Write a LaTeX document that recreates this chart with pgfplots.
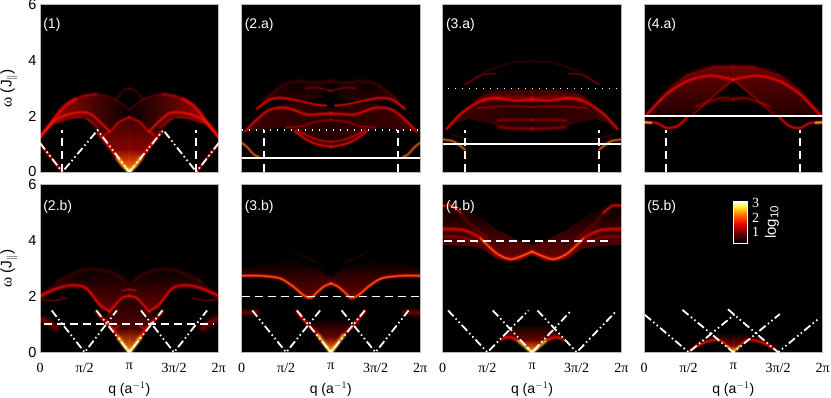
\documentclass[border=0pt]{standalone}
\usepackage{fontspec}
\setmainfont{Liberation Sans}
\newfontfamily\serif{Liberation Serif}
\usepackage{pgfplots}
\pgfplotsset{compat=1.18}
\definecolor{r0}{RGB}{45,0,0}
\definecolor{rA}{RGB}{100,0,0}
\definecolor{rB}{RGB}{180,0,0}
\definecolor{rC}{RGB}{255,8,0}
\definecolor{rD}{RGB}{255,90,0}
\definecolor{rE}{RGB}{255,190,30}
\definecolor{rF}{RGB}{255,255,150}
\definecolor{fA}{RGB}{8,0,0}
\definecolor{fB}{RGB}{35,0,0}
\definecolor{fC}{RGB}{62,0,0}
\definecolor{fD}{RGB}{105,0,0}
\definecolor{fE}{RGB}{175,8,0}
\definecolor{fF}{RGB}{255,120,0}
\pgfplotsset{
 mir/.style={x filter/.expression={2-x}},
 pan/.style={scale only axis,width=178.7pt,height=167.5pt,xmin=0,xmax=2,ymin=0,ymax=6,
  axis background/.style={fill=black},
  axis line style={draw=black!28,line width=.7pt},
  xtick={0,.5,1,1.5,2},
  ytick={0,2,4,6},yticklabels={},xticklabels={},
  tick style={draw=none},
  tick label style={font=\fontsize{14.5}{15}\selectfont},
 },
 botx/.style={xticklabels={0,{\serif π/2},{\serif π},{\serif 3π/2},{\serif 2π}},
  xticklabel style={font=\fontsize{14}{14}\selectfont\serif,yshift=-7pt},
  xlabel={q (a$^{-1}$)},xlabel style={font=\fontsize{14}{14}\selectfont,yshift=-3pt}},
 lefty/.style={yticklabels={0,2,4,6},
  ylabel={{\serif ω} (J$_{\parallel}$)},ylabel style={font=\fontsize{15.5}{15}\selectfont,yshift=4pt}},
 dd/.style={white,line width=1.8pt,dash pattern=on 8pt off 3pt on 1.5pt off 3pt on 1.5pt off 3pt},
 vd/.style={white,line width=1.8pt,dash pattern=on 8pt off 5pt},
 hd/.style={white,line width=1.8pt,dash pattern=on 8pt off 5pt},
 hs/.style={white,line width=1.6pt},
 hp/.style={white!85,line width=1.3pt,dash pattern=on 1.4pt off 5.6pt},
 g/.style={smooth,line cap=round,line join=round,blend mode=screen},
}
\newcommand\rgone[4]{%
 \addplot[g,#4,color=#1,line width=#2*1.8pt,opacity=.12] coordinates {#3};
 \addplot[g,#4,color=#1,line width=#2*1.4pt,opacity=.16] coordinates {#3};
 \addplot[g,#4,color=#1,line width=#2*1pt,opacity=.24] coordinates {#3};
 \addplot[g,#4,color=#1,line width=#2*.65pt,opacity=.32] coordinates {#3};
 \addplot[g,#4,color=#1,line width=#2*.35pt,opacity=.35] coordinates {#3};
}
\newcommand\rg[3]{\rgone{#1}{#2}{#3}{}\rgone{#1}{#2}{#3}{mir}}
\newcommand\hreg[3]{%
 \addplot[draw=none,blend mode=screen,left color=#1,right color=#2] coordinates {#3} --cycle;
 \addplot[draw=none,blend mode=screen,mir,left color=#2,right color=#1] coordinates {#3} --cycle;
}
\newcommand\vreg[3]{%
 \addplot[draw=none,blend mode=screen,top color=#1,bottom color=#2] coordinates {#3} --cycle;
 \addplot[draw=none,blend mode=screen,mir,top color=#1,bottom color=#2] coordinates {#3} --cycle;
}
\newcommand\lab[2]{\node[white!92,anchor=west,inner sep=0pt,font=\fontsize{14}{14}\selectfont] at (axis cs:.035,#1) {#2};}
\begin{document}
\begin{tikzpicture}[x=1pt,y=1pt]
\useasboundingbox (0,0) rectangle (831,397);
% ---------- (1)
\begin{axis}[pan,lefty,at={(40pt,225pt)},anchor=south west]
\hreg{fE}{fA}{(0,1.25)(.11,1.7)(.22,2.18)(.336,2.5)(.485,2.74)(.634,2.8)(.746,2.73)(.858,2.59)(.95,2.37)(1,2.23)(1,1.97)(.88,1.78)(.8,1.5)(.72,1.33)(.65,1.42)(.5,1.95)(.3,1.9)(.15,1.7)}
\vreg{fC}{fE}{(1,0)(.65,1.35)(.72,1.33)(.8,1.5)(.88,1.78)(1,1.97)}
\vreg{fA}{fF}{(1,0)(.8,.8)(1,.8)}
\rg{r0}{3}{(.85,2.62)(.95,2.95)(1,2.98)}
\rg{r0}{3}{(.5,2.74)(.634,2.8)(.746,2.73)(.858,2.59)(.95,2.37)(1,2.23)}
\rg{rC}{3}{(0,1.25)(.11,1.7)(.22,2.18)(.30,2.43)(.40,2.62)}
\rg{rA}{3}{(.3,2.43)(.40,2.62)(.50,2.74)(.63,2.79)}
\rg{rC}{2.5}{(0,1.25)(.15,1.82)(.3,2.05)(.45,2.14)(.56,2.09)(.67,1.8)(.78,1.45)}
\rg{rA}{1.8}{(.2,1.75)(.4,1.95)(.55,1.87)(.65,1.6)}
\rg{rB}{2.5}{(.72,1.33)(.8,1.5)(.88,1.78)(1,1.97)}
\rg{rC}{3}{(.65,1.4)(.75,1.0)(.85,.55)(.93,.22)}
\rg{rE}{3.5}{(.87,.5)(.93,.24)(1,0)}
\rg{rF}{2}{(.95,.18)(1,0)}
\rg{rC}{2.2}{(0,1.0)(.1,.62)(.18,.28)(.25,.02)}
\addplot[dd] coordinates {(0,1.04)(.25,0)(.645,1.5)(1,0)(1.38,1.5)(1.75,0)(2,1.04)};
\addplot[vd] coordinates {(.25,0)(.25,1.5)};
\addplot[vd] coordinates {(1.75,0)(1.75,1.5)};
\lab{5.28}{(1)}
\end{axis}
% ---------- (2.a)
\begin{axis}[pan,at={(241.5pt,225pt)},anchor=south west]
\vreg{fA}{fC}{(.17,2.2)(.28,2.7)(.47,3.13)(.66,3.25)(.84,3.19)(.92,3.1)(.9,2.65)(.66,2.55)(.32,2.55)}
\hreg{fC}{fB}{(.04,1.45)(.17,1.88)(.32,2.24)(.5,2.45)(.66,2.45)(.84,2.35)(.92,2.3)(1,2.3)(1,.9)(.85,.99)(.73,1.15)(.6,1.45)(.45,1.6)(.2,1.5)}
\rg{r0}{4}{(.25,2.55)(.47,3.13)(.66,3.25)(.84,3.19)(1,3.25)}
\rg{rA}{2.2}{(.72,3.0)(.85,3.02)(1,2.9)}
\rg{rC}{2.2}{(.17,2.26)(.32,2.6)(.47,2.65)(.66,2.53)(.84,2.41)(.95,2.38)}
\rg{rC}{2.5}{(.04,1.45)(.17,1.88)(.32,2.24)(.5,2.3)(.73,2.06)(.85,2.07)(1,2.1)}
\rg{rA}{2.5}{(.5,1.6)(.7,1.65)(.8,1.78)(1,1.87)}
\rg{rC}{2.5}{(.6,1.45)(.73,1.15)(.85,.99)(1,.9)}
\rg{rB}{2.2}{(.62,1.5)(.75,1.28)(.88,1.13)(1,1.08)}
\rg{rD}{2.2}{(0,1.05)(.06,.9)(.14,.62)(.19,.55)}
\addplot[hs] coordinates {(0,.5)(2,.5)};
\addplot[hp] coordinates {(0,1.5)(2,1.5)};
\addplot[vd] coordinates {(.25,0)(.25,1.5)};
\addplot[vd] coordinates {(1.75,0)(1.75,1.5)};
\lab{5.28}{(2.a)}
\end{axis}
% ---------- (3.a)
\begin{axis}[pan,at={(442.7pt,225pt)},anchor=south west]
\hreg{fC}{fB}{(.045,1.54)(.19,2.11)(.38,2.59)(.53,2.83)(.75,2.9)(1,2.89)(1,1.5)(.7,1.55)(.5,1.75)(.3,1.9)(.15,1.75)}
\rg{r0}{4.5}{(.38,2.59)(.53,2.83)(.75,2.9)(1,2.89)}
\rg{r0}{1.8}{(.25,3.13)(.455,3.55)(.75,3.9)(1,3.97)}
\rg{rA}{1.5}{(.25,3.13)(.455,3.49)(.6,3.52)}
\rg{rC}{2.5}{(.045,1.54)(.19,2.05)(.38,2.47)(.57,2.65)(.79,2.56)(1,2.59)}
\rg{rA}{5}{(.45,2.6)(.7,2.68)(1,2.65)}
\rg{rA}{2.2}{(.38,2.29)(.68,2.35)(1,2.33)}
\rg{rA}{3}{(.62,1.85)(.8,1.87)(1,1.87)}
\rg{rA}{3.5}{(.62,1.6)(.8,1.56)(1,1.54)}
\rg{rD}{2.2}{(0,1.16)(.12,1.1)(.25,.8)}
\rg{r0}{2.2}{(.1,1.35)(.2,1.25)(.3,1.15)}
\addplot[hs] coordinates {(0,1)(2,1)};
\addplot[hp] coordinates {(.06,3)(2,3)};
\addplot[vd] coordinates {(.25,0)(.25,1.5)};
\addplot[vd] coordinates {(1.75,0)(1.75,1.5)};
\lab{5.28}{(3.a)}
\end{axis}
% ---------- (4.a)
\begin{axis}[pan,at={(644pt,225pt)},anchor=south west]
\vreg{fD}{fB}{(.03,2.05)(.25,2.89)(.48,3.49)(.78,3.79)(1,3.79)(1,3.27)(.78,2.71)(.55,2.05)}
\vreg{fB}{fB}{(.6,2.3)(.85,2.68)(1,2.75)(1,2.5)(.8,2.5)}
\rg{r0}{4}{(.03,2.05)(.25,2.89)(.48,3.49)(.78,3.79)(1,3.79)}
\rg{rC}{2.5}{(.03,2.05)(.25,2.77)(.48,3.25)(.74,3.45)(1,3.31)}
\rg{rA}{2.2}{(.55,2.05)(.78,2.71)(1,3.31)}
\rg{rA}{2.5}{(.59,2.35)(.85,2.65)(1,2.6)}
\rg{rE}{2.2}{(0,1.78)(.08,1.76)}
\rg{rC}{2.5}{(0,1.78)(.14,1.76)(.25,1.58)(.37,1.64)(.48,1.94)}
\addplot[hs] coordinates {(0,2)(2,2)};
\addplot[vd] coordinates {(.25,0)(.25,1.5)};
\addplot[vd] coordinates {(1.75,0)(1.75,1.5)};
\lab{5.28}{(4.a)}
\end{axis}
% ---------- (2.b)
\begin{axis}[pan,lefty,botx,at={(40pt,44.7pt)},anchor=south west]
\vreg{fA}{fD}{(0,2.09)(.19,2.53)(.49,2.95)(.78,2.89)(.95,2.59)(1,2.53)(1,1.95)(.93,1.95)(.86,1.76)(.78,1.46)(.67,1.6)(.52,2.2)(.37,2.3)(.19,2.2)(0,1.9)}
\vreg{fB}{fD}{(1,0)(.72,1.1)(.76,1.46)(.86,1.74)(.93,1.95)(1,2)}
\vreg{fA}{fF}{(1,0)(.8,.85)(1,.85)}
\rg{fD}{7}{(0,1.2)(.08,1.1)(.18,.87)}
\rg{r0}{4}{(.19,2.53)(.49,2.95)(.78,2.89)(.95,2.59)}
\rg{rC}{2.5}{(0,2.02)(.19,2.29)(.37,2.41)(.52,2.29)(.67,1.7)(.78,1.46)}
\rg{rC}{2.2}{(.78,1.46)(.86,1.76)(.93,1.97)(1,2.02)}
\rg{rB}{1.5}{(.92,2.2)(1,2.26)}
\rg{rA}{1.8}{(0,1.9)(.15,1.85)(.3,1.95)}
\rg{rC}{3}{(.63,1.46)(.75,1.04)(.82,.8)(.9,.42)}
\rg{rE}{3.5}{(.88,.52)(.94,.24)(1,0)}
\rg{rF}{2}{(.95,.2)(1,0)}
\rg{rB}{2.2}{(.82,.8)(.88,.95)}
\addplot[dd] coordinates {(.13,1.5)(.5,0)(.86,1.5)};
\addplot[dd] coordinates {(.63,1.5)(1,0)(1.37,1.5)};
\addplot[dd] coordinates {(1.13,1.5)(1.5,0)(1.87,1.5)};
\addplot[hd] coordinates {(.05,1.02)(1.95,1.02)};
\lab{5.2}{(2.b)}
\end{axis}
% ---------- (3.b)
\begin{axis}[pan,botx,at={(241.5pt,44.7pt)},anchor=south west]
\vreg{fA}{fD}{(0,3.01)(.28,3.17)(.58,3.25)(.84,3.01)(1,2.71)(1,2.47)(.92,2.35)(.84,2.13)(.77,1.94)(.69,2.05)(.58,2.35)(.43,2.65)(.21,2.7)(0,2.7)}
\vreg{fA}{fE}{(1,0)(.82,.74)(.74,1.0)(.84,1.1)(1,1.2)}
\vreg{fA}{fF}{(1,0)(.86,.55)(1,.55)}
\rg{rA}{6}{(0,1.42)(.1,1.42)(.17,1.45)}
\rg{rC}{3}{(0,2.74)(.21,2.74)(.43,2.65)(.58,2.35)(.69,2.05)(.77,1.94)(.84,2.13)(.92,2.35)(1,2.47)}
\rg{rD}{1.5}{(0,2.74)(.21,2.74)(.43,2.65)(.58,2.35)(.69,2.05)(.77,1.94)(.84,2.13)(.92,2.35)(1,2.47)}
\rg{r0}{1.5}{(.6,3.55)(.72,3.4)(.85,3.2)}
\rg{rC}{3}{(.62,1.46)(.73,1.04)(.8,.8)(.88,.55)}
\rg{rE}{3.5}{(.86,.6)(.95,.2)(1,0)}
\rg{rF}{2}{(.95,.2)(1,0)}
\addplot[dd] coordinates {(.12,1.5)(.5,0)(.88,1.5)};
\addplot[dd] coordinates {(.62,1.5)(1,0)(1.38,1.5)};
\addplot[dd] coordinates {(1.12,1.5)(1.5,0)(1.87,1.5)};
\addplot[hd] coordinates {(0,2)(2,2)};
\lab{5.2}{(3.b)}
\end{axis}
% ---------- (4.b)
\begin{axis}[pan,botx,at={(442.7pt,44.7pt)},anchor=south west]
\vreg{fA}{fD}{(0,3.85)(.3,3.8)(.45,3.7)(.6,3.35)(.75,3.25)(.87,3.3)(1,3.5)(1,3.85)(.85,4.0)(.6,4.4)(.4,4.85)(.2,5.25)(0,5.35)}
\vreg{fA}{fE}{(.66,.5)(.75,.8)(.85,.97)(1,1.0)(1,0)(.88,.36)(.75,.45)}
\vreg{fA}{fF}{(1,0)(.86,.45)(1,.45)}
\rg{rC}{2.5}{(0,5.25)(.1,5.25)(.2,5)}
\rg{r0}{4}{(.2,5)(.3,4.6)(.5,4.1)}
\rg{rC}{3}{(0,4.41)(.23,4.38)(.42,4.09)(.6,3.55)(.75,3.34)(.87,3.43)(1,3.61)}
\rg{rD}{1.5}{(.42,4.09)(.6,3.55)(.75,3.34)(.87,3.43)(1,3.61)}
\rg{rA}{2.5}{(0,4.15)(.2,4.12)(.4,3.95)}
\rg{rC}{2.5}{(.65,.45)(.75,.55)(.85,.4)}
\rg{rE}{3}{(.85,.4)(.93,.18)(1,0)}
\rg{rF}{2}{(.94,.16)(1,0)}
\addplot[dd] coordinates {(.06,1.5)(.5,0)(.96,1.5)};
\addplot[dd] coordinates {(.56,1.5)(1,0)(1.44,1.5)};
\addplot[dd] coordinates {(1.06,1.5)(1.5,0)(1.95,1.5)};
\addplot[hd] coordinates {(.02,4)(1.9,4)};
\lab{5.2}{(4.b)}
\end{axis}
% ---------- (5.b)
\begin{axis}[pan,botx,at={(644pt,44.7pt)},anchor=south west,
 colormap={hotc}{rgb255(0pt)=(0,0,0) rgb255(9pt)=(90,0,0) rgb255(19pt)=(235,0,0) rgb255(28pt)=(255,110,0) rgb255(36pt)=(255,240,40) rgb255(41pt)=(255,255,235)},
 point meta min=.24,point meta max=3.1,colorbar,
 colorbar style={at={(parent axis.north west)},anchor=north west,xshift=81pt,yshift=-17pt,
  scale only axis,width=14pt,height=41.3pt,ytick={1,2,3},
  axis line style={draw=white,line width=.9pt},tick style={draw=none},
  yticklabel style={text=white,font=\fontsize{14}{14}\selectfont\serif,xshift=1pt,/pgf/number format/assume math mode=true},
  ylabel={log\raisebox{-2.5pt}{\fontsize{11.5}{11.5}\selectfont 10}},ylabel style={text=white,font=\fontsize{15}{15}\selectfont,yshift=1pt}}]
\vreg{fA}{fE}{(.5,.08)(.66,.5)(.85,.66)(1,.68)(1,0)(.94,.2)(.85,.38)(.7,.32)}
\vreg{fA}{fF}{(1,0)(.92,.25)(1,.25)}
\rg{rC}{1.8}{(.51,.05)(.7,.38)(.85,.44)(.94,.2)}
\rg{rE}{2.2}{(.93,.22)(1,0)}
\addplot[dd] coordinates {(.01,1.34)(.5,0)(1.02,1.37)};
\addplot[dd] coordinates {(.43,1.52)(1,0)(1.52,1.37)};
\addplot[dd] coordinates {(.94,1.54)(1.5,0)(1.96,1.22)};
\lab{5.2}{(5.b)}
\end{axis}
\end{tikzpicture}
\end{document}
